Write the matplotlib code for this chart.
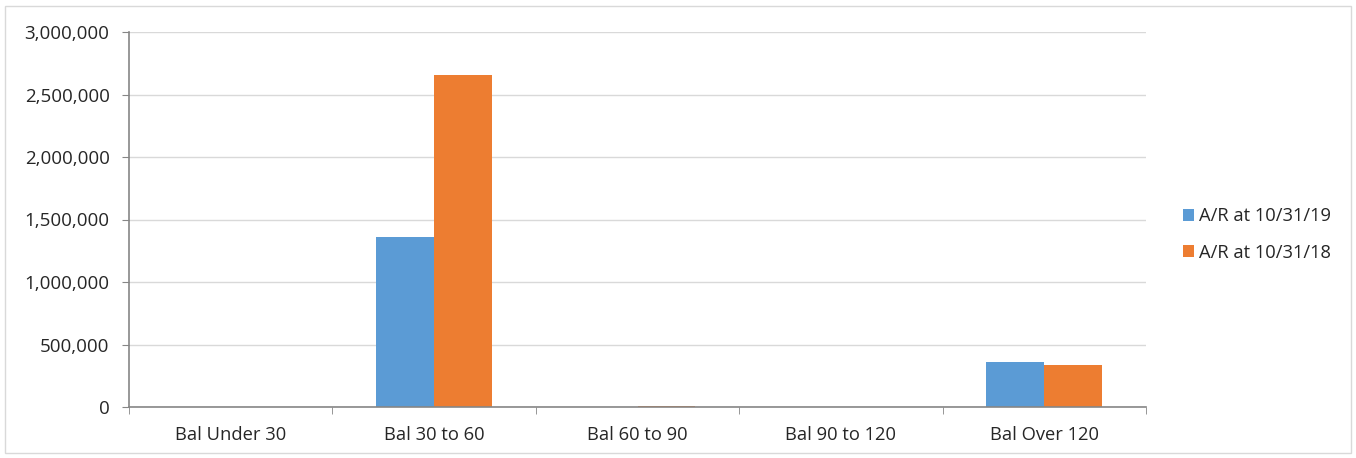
import matplotlib.pyplot as plt
import numpy as np
from matplotlib.patches import Rectangle
from matplotlib.ticker import FuncFormatter

categories = ["Bal Under 30", "Bal 30 to 60", "Bal 60 to 90", "Bal 90 to 120", "Bal Over 120"]
ar_2019 = [0, 1360000, 0, 0, 360000]
ar_2018 = [0, 2655000, 8000, 0, 336000]
series_names = ["A/R at 10/31/19", "A/R at 10/31/18"]

plt.rcParams['font.family'] = ['Open Sans', 'DejaVu Sans']
txt = '#262626'

fig = plt.figure(figsize=(13.56, 4.58), dpi=100)
ax = fig.add_axes([129 / 1356, 51 / 458, 1017 / 1356, 375 / 458])

# chart border
fig.patches.append(Rectangle((5 / 1356, 5 / 458), 1346 / 1356, 447 / 458,
                             transform=fig.transFigure, fill=False,
                             edgecolor='#d9d9d9', linewidth=1))

x = np.arange(len(categories))
w = 0.285
ax.bar(x - w / 2, ar_2019, w, color='#5B9BD5', label=series_names[0])
ax.bar(x + w / 2, ar_2018, w, color='#ED7D31', label=series_names[1])

ax.set_xlim(-0.5, len(categories) - 0.5)
ax.set_ylim(0, 3000000)
ax.set_yticks(np.arange(0, 3000001, 500000))
ax.yaxis.set_major_formatter(FuncFormatter(lambda v, p: f"{int(v):,}"))
ax.grid(axis='y', color='#d9d9d9', linewidth=1)
ax.set_axisbelow(True)

ax.set_xticks(x)
ax.set_xticklabels(categories)
ax.set_xticks(np.arange(-0.5, len(categories)), minor=True)
ax.tick_params(axis='x', which='major', length=0, pad=14, labelsize=13.2, colors=txt)
ax.tick_params(axis='x', which='minor', length=5, color='#868686')
ax.tick_params(axis='y', length=5, color='#868686', labelsize=13.5, labelcolor=txt, pad=9)

for side in ['top', 'right']:
    ax.spines[side].set_visible(False)
for side in ['left', 'bottom']:
    ax.spines[side].set_color('#868686')
    ax.spines[side].set_linewidth(1.2)

ax.legend(loc='center left', bbox_to_anchor=(1.02, 0.46), frameon=False,
          fontsize=13.2, handlelength=0.6, handleheight=0.6, handletextpad=0.3,
          labelspacing=1.0, labelcolor=txt)

fig.savefig("out.png", dpi=100)
